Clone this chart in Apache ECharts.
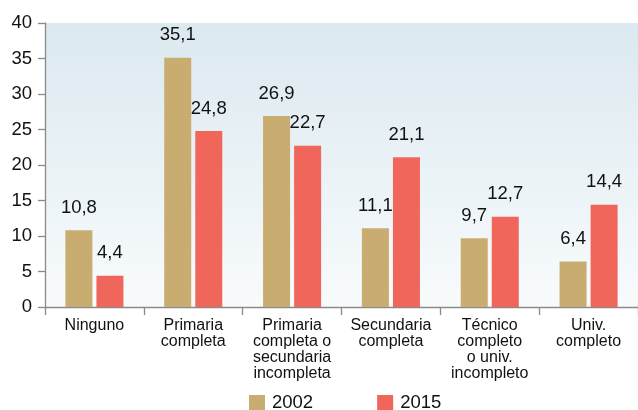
<!DOCTYPE html>
<html>
<head>
<meta charset="utf-8">
<script src="https://cdn.jsdelivr.net/npm/echarts@6/dist/echarts.min.js"></script>
<style>
  html, body { margin: 0; padding: 0; background: #ffffff; }
  #chart { width: 638px; height: 410px; }
</style>
</head>
<body>
<div id="chart"></div>
<script>
// Education level categories
const categories = [
  'Ninguno',
  'Primaria\ncompleta',
  'Primaria\ncompleta o\nsecundaria\nincompleta',
  'Secundaria\ncompleta',
  'Técnico\ncompleto\no univ.\nincompleto',
  'Univ.\ncompleto'
];
// Percentages by year
const values2002 = [10.8, 35.1, 26.9, 11.1, 9.7, 6.4];
const values2015 = [4.4, 24.8, 22.7, 21.1, 12.7, 14.4];
const yTicks = { min: 0, max: 40, interval: 5 };

const FONT = '"Liberation Sans", Arial, sans-serif';
const fmt = p => String(p.value).replace('.', ',');

const chart = echarts.init(document.getElementById('chart'), null, { renderer: 'canvas' });
chart.setOption({
  animation: false,
  textStyle: { fontFamily: FONT },
  grid: {
    left: 45, top: 23, width: 596, bottom: 103,
    show: true, borderWidth: 0,
    backgroundColor: new echarts.graphic.LinearGradient(0, 0, 0, 1, [
      { offset: 0, color: '#dbe9f0' },
      { offset: 1, color: '#f8fbfc' }
    ])
  },
  legend: {
    top: 388, left: 244,
    itemWidth: 16, itemHeight: 15, itemGap: 64,
    icon: 'rect',
    textStyle: { fontSize: 18.5, color: '#111', fontFamily: FONT, padding: [2, 0, 0, 2] },
    data: ['2002', '2015']
  },
  xAxis: {
    type: 'category',
    data: categories,
    axisLine: { show: true, lineStyle: { color: '#8a8a8a', width: 1.3 } },
    axisTick: { show: true, length: 8, lineStyle: { color: '#8a8a8a', width: 1.3 } },
    axisLabel: { fontSize: 16, color: '#111', lineHeight: 16, margin: 11, fontFamily: FONT, interval: 0 }
  },
  yAxis: {
    type: 'value',
    min: yTicks.min, max: yTicks.max, interval: yTicks.interval,
    splitLine: { show: false },
    axisLine: { show: true, lineStyle: { color: '#8a8a8a', width: 1.3 } },
    axisTick: { show: true, length: 7, lineStyle: { color: '#8a8a8a', width: 1.3 } },
    axisLabel: { fontSize: 18.5, color: '#111', margin: 13, fontFamily: FONT }
  },
  series: [
    {
      name: '2002', type: 'bar', data: values2002,
      barWidth: 27, barGap: '15%',
      itemStyle: { color: '#c9ac6f' },
      label: { show: true, position: 'top', distance: 13, fontSize: 18.5, color: '#111', formatter: fmt, fontFamily: FONT }
    },
    {
      name: '2015', type: 'bar', data: values2015,
      barWidth: 27,
      itemStyle: { color: '#f0665a' },
      label: { show: true, position: 'top', distance: 13, fontSize: 18.5, color: '#111', formatter: fmt, fontFamily: FONT }
    }
  ]
});
</script>
</body>
</html>
